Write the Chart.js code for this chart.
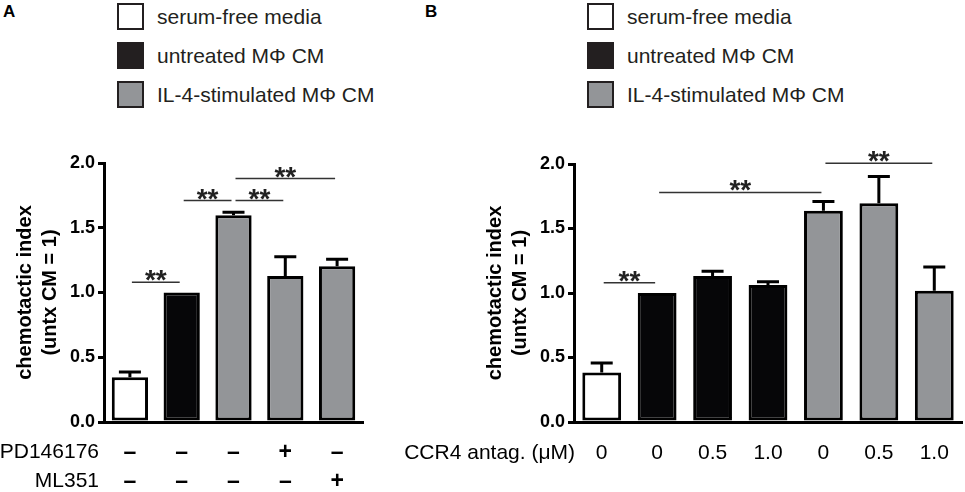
<!DOCTYPE html>
<html>
<head>
<meta charset="utf-8">
<title>Chemotactic index</title>
<script src="https://cdn.jsdelivr.net/npm/chart.js"></script>
<style>
  body { margin: 0; background: #fff; font-family: "Liberation Sans", Arial, sans-serif; }
  #wrap { position: relative; width: 965px; height: 492px; overflow: hidden; }
  canvas { position: absolute; left: 0; top: 0; }
  .panel { position: absolute; top: 2px; font-weight: bold; font-size: 17px; color: #000; }
  .legend { position: absolute; top: 3px; }
  .legend .item { position: relative; height: 39px; }
  .legend .box { position: absolute; left: 0; top: 0; width: 27px; height: 27px; box-sizing: border-box; border: 2px solid #231f20; }
  .legend .txt { position: absolute; left: 40px; top: 0; line-height: 27px; font-size: 21px; color: #231f20; white-space: nowrap; }
</style>
</head>
<body>
<div id="wrap">
  <div class="panel" style="left:3px">A</div>
  <div class="panel" style="left:425px">B</div>
  <div class="legend" id="legendA" style="left:117px"></div>
  <div class="legend" id="legendB" style="left:587px"></div>
  <canvas id="chartA" width="965" height="492"></canvas>
  <canvas id="chartB" width="965" height="492"></canvas>
</div>
<script>
// legend / groups
const groupNames = ['serum-free media', 'untreated MΦ CM', 'IL-4-stimulated MΦ CM'];
const groupColors = ['#ffffff', '#060608', '#939598'];

// panel A
const pd146176 = ['–', '–', '–', '+', '–'];
const ml351    = ['–', '–', '–', '–', '+'];
const meanA  = [0.345, 1.0, 1.596, 1.127, 1.202];
const errA   = [0.041, 0, 0.024, 0.150, 0.054];
const groupA = [0, 1, 2, 2, 2];
const sigA   = [[0, 1, 1.08], [1, 2, 1.71], [2, 3, 1.71], [2, 4, 1.88]];

// panel B
const ccr4   = ['0', '0', '0.5', '1.0', '0', '0.5', '1.0'];
const meanB  = [0.383, 1.0, 1.132, 1.062, 1.637, 1.696, 1.018];
const errB   = [0.075, 0, 0.036, 0.026, 0.072, 0.208, 0.184];
const groupB = [0, 1, 1, 1, 2, 2, 2];
const sigB   = [[0, 1, 1.08], [1, 4, 1.78], [4, 6, 2.005]];

const yTicks = [0, 0.5, 1.0, 1.5, 2.0];

Chart.defaults.font.family = '"Liberation Sans", Arial, sans-serif';
Chart.defaults.color = '#000';

['legendA', 'legendB'].forEach(id => {
  const el = document.getElementById(id);
  groupNames.forEach((name, i) => {
    const item = document.createElement('div');
    item.className = 'item';
    item.innerHTML = '<span class="box" style="background:' + (i == 1 ? '#231f20' : groupColors[i]) + '"></span>' +
      '<span class="txt">' + name + '</span>';
    el.appendChild(item);
  });
});

// error bars (upper only), significance brackets, row labels
const extras = {
  id: 'extras',
  afterDatasetsDraw(chart, args, opts) {
    const ctx = chart.ctx;
    const y = chart.scales.y;
    const bars = chart.getDatasetMeta(0).data;
    const means = chart.data.datasets[0].data;
    ctx.save();
    ctx.strokeStyle = '#000';
    ctx.lineWidth = 3;
    opts.err.forEach((e, i) => {
      if (!e) return;
      const x = bars[i].x;
      const top = y.getPixelForValue(means[i] + e);
      ctx.beginPath();
      ctx.moveTo(x, bars[i].y);
      ctx.lineTo(x, top);
      ctx.moveTo(x - 11, top);
      ctx.lineTo(x + 11, top);
      ctx.stroke();
    });
    ctx.lineWidth = 1.5;
    ctx.strokeStyle = '#333';
    ctx.fillStyle = '#222';
    ctx.font = 'bold 28px "Liberation Sans", Arial, sans-serif';
    ctx.textAlign = 'center';
    ctx.textBaseline = 'alphabetic';
    opts.sig.forEach(([a, b, v]) => {
      const x0 = bars[a].x + 2, x1 = bars[b].x - 2;
      const py = y.getPixelForValue(v);
      ctx.beginPath();
      ctx.moveTo(x0, py);
      ctx.lineTo(x1, py);
      ctx.stroke();
      ctx.fillText('**', (x0 + x1) / 2, py + 7);
    });
    ctx.fillStyle = '#000';
    ctx.font = '21px "Liberation Sans", Arial, sans-serif';
    ctx.textAlign = 'right';
    ctx.textBaseline = 'middle';
    const xs = chart.scales.x;
    opts.rows.forEach((t, i) => {
      ctx.fillText(t, chart.chartArea.left + opts.rowDx, xs.top + opts.rowTop + i * opts.rowStep);
    });
    ctx.restore();
  }
};

function makeChart(id, labels, means, errs, groups, sig, rows, cfg) {
  return new Chart(document.getElementById(id), {
    type: 'bar',
    data: {
      labels: labels,
      datasets: [{
        data: means,
        backgroundColor: groups.map(g => groupColors[g]),
        borderColor: '#000',
        borderWidth: 3,
        borderSkipped: false,
        barPercentage: 0.7,
        categoryPercentage: 1.0
      }]
    },
    options: {
      responsive: false,
      animation: false,
      devicePixelRatio: 1,
      layout: { padding: cfg.padding },
      plugins: {
        legend: { display: false },
        tooltip: { enabled: false },
        extras: { err: errs, sig: sig, rows: rows, rowDx: cfg.rowDx, rowTop: cfg.rowTop, rowStep: 29 }
      },
      scales: {
        x: {
          grid: { display: false },
          border: { display: true, color: '#000', width: 3 },
          ticks: { padding: cfg.xPad, font: cfg.xFont, color: '#000', maxRotation: 0, autoSkip: false },
          afterFit(s) { s.height = 70; }
        },
        y: {
          min: 0, max: 2,
          afterBuildTicks(s) { s.ticks = yTicks.map(v => ({ value: v })); },
          grid: { drawOnChartArea: false, drawTicks: true, tickLength: 6, color: '#000', lineWidth: 3 },
          border: { display: true, color: '#000', width: 3 },
          ticks: { padding: 3, font: { size: 18, weight: 'bold' }, color: '#000', callback: v => v.toFixed(1) },
          title: {
            display: true,
            text: ['chemotactic index', '(untx CM = 1)'],
            font: { size: 20, weight: 'bold', lineHeight: 1.25 },
            padding: { top: 12.5, bottom: 0 },
            color: '#000'
          },
          afterFit(s) { s.width = 104; }
        }
      }
    },
    plugins: [extras]
  });
}

makeChart('chartA', pd146176.map((p, i) => [p, ml351[i]]), meanA, errA, groupA, sigA,
  ['PD146176', 'ML351'],
  { padding: { left: 0, top: 163, right: 602, bottom: 0 }, xPad: 8,
    xFont: { size: 23, weight: 'bold', lineHeight: 1.26 }, rowDx: -5, rowTop: 30 });

makeChart('chartB', ccr4, meanB, errB, groupB, sigB,
  ['CCR4 antag. (μM)'],
  { padding: { left: 470, top: 164, right: 3, bottom: 0 }, xPad: 11,
    xFont: { size: 21, lineHeight: 1.2 }, rowDx: 1, rowTop: 31 });
</script>
</body>
</html>
